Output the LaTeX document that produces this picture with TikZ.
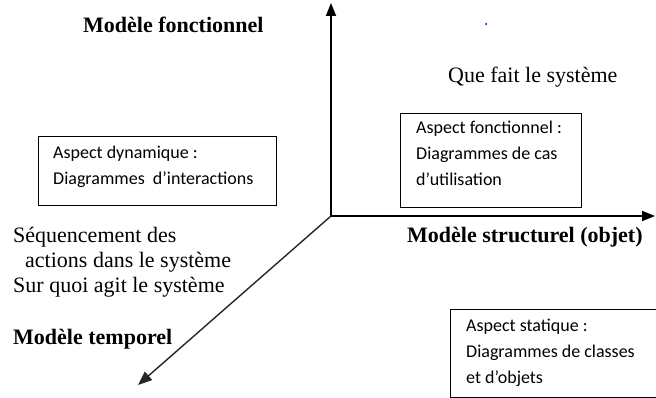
\documentclass[tikz,border=0pt]{standalone}
\usepackage{fontspec}
\setmainfont{Liberation Serif}
\newfontfamily\boxfont{Carlito}
\usetikzlibrary{arrows.meta}
\begin{document}
\begin{tikzpicture}[x=1pt,y=-1pt,
  axis/.style={line width=1.8pt,-{Triangle[length=13pt,width=10pt]}},
  diag/.style={line width=1.4pt,draw=black!85,-{Triangle[length=14pt,width=11pt]}},
  aspect/.style={draw,line width=1.2pt,anchor=north west,inner sep=0pt},
  aspecttext/.style={anchor=north west,align=left,inner sep=0pt,
    font=\boxfont\fontsize{18}{26}\selectfont},
  title/.style={anchor=base west,inner sep=0pt,font=\fontsize{22}{26}\selectfont\bfseries},
  plain/.style={anchor=base west,inner sep=0pt,font=\fontsize{22}{26}\selectfont}]
\useasboundingbox (0,0) rectangle (656,398);

% axes
\coordinate (O) at (331,216);
\coordinate (up) at (331,3);
\coordinate (right) at (655,216);
\coordinate (down) at (138,385);
\draw[axis] (O) -- (up);
\draw[axis] (O) -- (right);
\draw[diag] (O) -- (down);

% stray point
\node[circle,fill=blue!80,inner sep=0pt,minimum size=2.5pt] (dot) at (486,24) {};

% axis titles
\node[title] (tfonc) at (83,33) {Modèle fonctionnel};
\node[title] (tstruct) at (407,243) {Modèle structurel (objet)};
\node[title] (ttemp) at (13,344) {Modèle temporel};

% descriptions
\node[plain] (quefait) at (448,83) {Que fait le système};
\node[plain] (seq1) at (13,243) {Séquencement des};
\node[plain] (seq2) at (25,268) {actions dans le système};
\node[plain] (surquoi) at (13,292) {Sur quoi agit le système};

% aspect boxes
\node[aspect,minimum width=238pt,minimum height=69pt] (bdyn) at (38,136) {};
\node[aspecttext] (tdyn) at (53,146) {Aspect dynamique :\\Diagrammes\ \ d’interactions};

\node[aspect,minimum width=181pt,minimum height=94pt] (bfonc) at (400,113) {};
\node[aspecttext] (tfonc2) at (416,121) {Aspect fonctionnel :\\Diagrammes de cas\\d’utilisation};

\node[aspect,minimum width=220pt,minimum height=88pt] (bstat) at (450,309) {};
\node[aspecttext] (tstat) at (466,319) {Aspect statique :\\Diagrammes de classes\\et d’objets};
\end{tikzpicture}
\end{document}
